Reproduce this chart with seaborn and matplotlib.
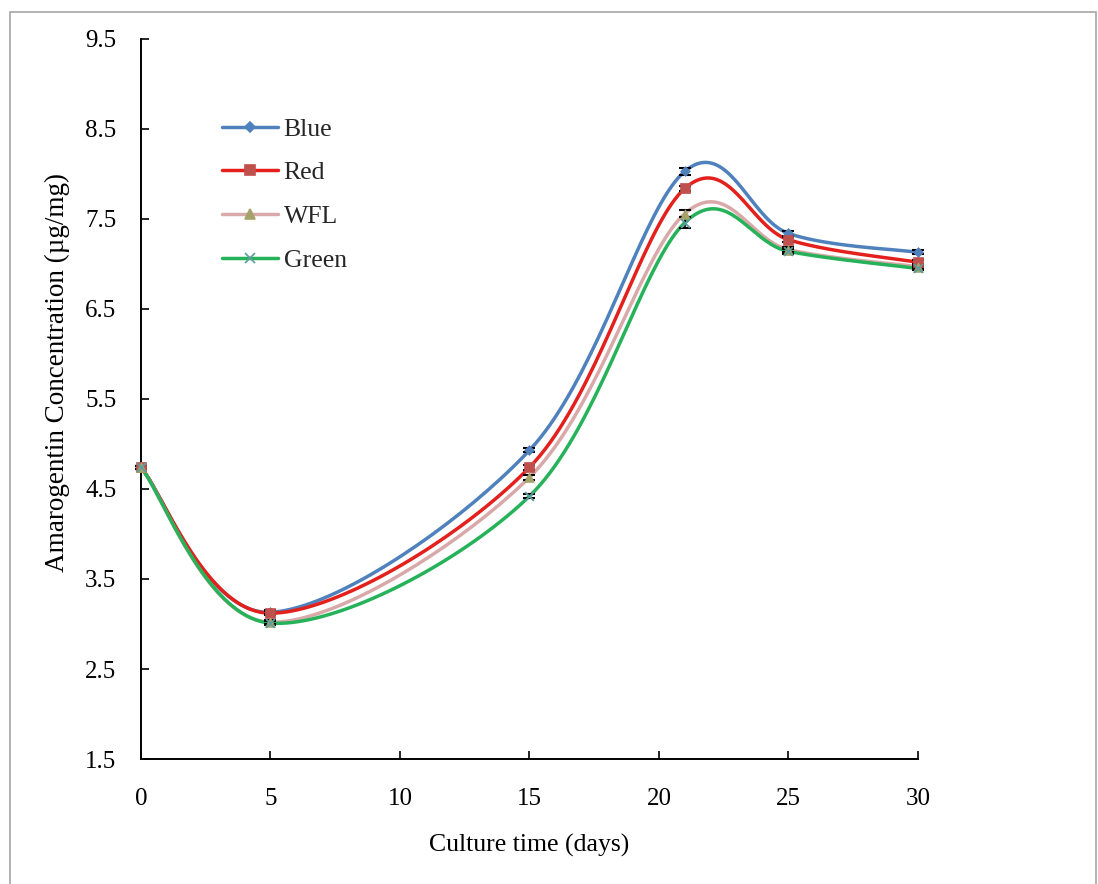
import numpy as np
import pandas as pd
import matplotlib
matplotlib.use("Agg")
import matplotlib.pyplot as plt
import seaborn as sns
from matplotlib.lines import Line2D
from matplotlib.patches import Rectangle

# ---- data ----
days = [0, 5, 15, 21, 25, 30]
blue = [4.74, 3.13, 4.93, 8.03, 7.34, 7.13]
red = [4.74, 3.12, 4.74, 7.84, 7.27, 7.02]
wfl = [4.74, 3.02, 4.63, 7.56, 7.16, 6.97]
green = [4.74, 3.01, 4.42, 7.46, 7.14, 6.95]
err_blue = [0.02, 0.02, 0.02, 0.04, 0.03, 0.02]
err_red = [0.02, 0.02, 0.03, 0.03, 0.03, 0.02]
err_wfl = [0.02, 0.02, 0.03, 0.04, 0.03, 0.02]
err_green = [0.02, 0.02, 0.02, 0.06, 0.03, 0.02]
series_names = ["Blue", "Red", "WFL", "Green"]
x_ticks = [0, 5, 10, 15, 20, 25, 30]
y_ticks = [1.5, 2.5, 3.5, 4.5, 5.5, 6.5, 7.5, 8.5, 9.5]

line_colors = ["#4F81BD", "#E3201C", "#D9A9A9", "#25B258"]
marker_colors = ["#4F81BD", "#C0504D", "#A5A36A", "#5A9E9E"]
markers = ["D", "s", "^", "x"]
marker_sizes = [5, 7, 7, 7]


def excel_smooth(x, y, sx=25.9, sy=90.0, n=40):
    """Excel-style smoothed line (cubic Bezier through the points)."""
    P = np.column_stack([np.asarray(x, float) * sx, np.asarray(y, float) * sy])
    m = len(P)
    out = []
    for i in range(m - 1):
        p0 = P[i - 1] if i > 0 else P[i]
        p1 = P[i]
        p2 = P[i + 1]
        p3 = P[i + 2] if i + 2 < m else P[i + 1]
        c1 = p1 + (p2 - p0) / 6.0
        c2 = p2 - (p3 - p1) / 6.0
        t = np.linspace(0, 1, n)[:, None]
        seg = ((1 - t) ** 3) * p1 + 3 * ((1 - t) ** 2) * t * c1 + 3 * (1 - t) * t ** 2 * c2 + t ** 3 * p2
        out.append(seg if i == 0 else seg[1:])
    out = np.vstack(out)
    return out[:, 0] / sx, out[:, 1] / sy


sns.set_theme(style="white")
plt.rcParams["font.family"] = ["Liberation Serif", "DejaVu Serif"]

fig = plt.figure(figsize=(10.98, 8.84), dpi=100)
ax = fig.add_axes([0.1284, 0.1414, 0.836 - 0.1284, 0.9559 - 0.1414])

all_vals = [blue, red, wfl, green]
all_errs = [err_blue, err_red, err_wfl, err_green]
handles = []
for k, name in enumerate(series_names):
    sxv, syv = excel_smooth(days, all_vals[k])
    df = pd.DataFrame({"x": sxv, "y": syv})
    sns.lineplot(data=df, x="x", y="y", sort=False, estimator=None,
                 color=line_colors[k], linewidth=2.5, ax=ax, zorder=2)
for k, name in enumerate(series_names):
    eb = ax.errorbar(days, all_vals[k], yerr=all_errs[k], fmt="none", ecolor="black",
                     elinewidth=1.2, capsize=4, capthick=1.5, zorder=3)
    for art in eb.lines[1] + eb.lines[2]:
        art.set_clip_on(False)
    pts = pd.DataFrame({"x": days, "y": all_vals[k]})
    if markers[k] == "x":
        sns.scatterplot(data=pts, x="x", y="y", marker="x", color=marker_colors[k],
                        s=40, linewidth=1.3, ax=ax, zorder=4, clip_on=False)
    else:
        sns.scatterplot(data=pts, x="x", y="y", marker=markers[k], color=marker_colors[k],
                        s=marker_sizes[k] ** 2, edgecolor=marker_colors[k], linewidth=0.5,
                        ax=ax, zorder=4, clip_on=False)
    handles.append(Line2D([0], [0], color=line_colors[k], linewidth=2.5,
                          marker=markers[k], markersize=marker_sizes[k],
                          markerfacecolor=marker_colors[k], markeredgecolor=marker_colors[k],
                          markeredgewidth=1.2))

ax.set_xlim(0, 30)
ax.set_ylim(1.5, 9.5)
ax.set_xticks(x_ticks)
ax.set_yticks(y_ticks)
ax.set_yticklabels([f"{v:.1f}" for v in y_ticks])
ax.tick_params(axis="both", direction="in", length=6, width=1.2, colors="black",
               labelsize=18, left=True, bottom=True)
ax.tick_params(axis="x", pad=21)
ax.tick_params(axis="y", pad=29)
for lbl in ax.get_yticklabels():
    lbl.set_horizontalalignment("center")
for side in ["top", "right"]:
    ax.spines[side].set_visible(False)
for side in ["left", "bottom"]:
    ax.spines[side].set_color("black")
    ax.spines[side].set_linewidth(1.4)

ax.set_xlabel("Culture time (days)", fontsize=18.5, labelpad=17, color="black")
ax.set_ylabel("Amarogentin Concentration (µg/mg)", fontsize=19.5, color="black")
ax.yaxis.set_label_coords(-0.0914, 0.537)

leg = ax.legend(handles, series_names, loc="upper left", bbox_to_anchor=(0.091, 0.905),
                frameon=False, fontsize=18.5, handlelength=2.2, handletextpad=0.2,
                labelspacing=0.81, borderaxespad=0)

fig.patches.append(Rectangle((10 / 1098, -0.01), (1096 - 10) / 1098, 1 - 12 / 884 + 0.01,
                             transform=fig.transFigure, fill=False, edgecolor="#A6A6A6",
                             linewidth=1.2))

fig.savefig("out.png", dpi=100)
